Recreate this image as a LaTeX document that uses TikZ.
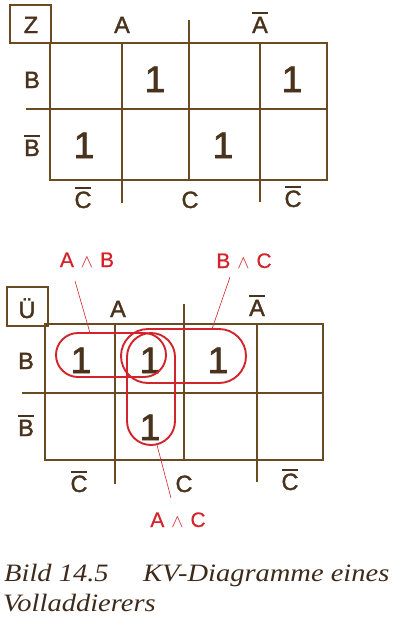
\documentclass[tikz,border=0pt]{standalone}
\usepackage{fontspec}
\setmainfont{Liberation Sans}
\newfontfamily\kvfont[FakeBold=1.6]{Liberation Sans}
\newfontfamily\redfont[FakeBold=0.6]{Liberation Sans}
\newfontfamily\capfont[FakeStretch=1.14]{Liberation Serif}
\definecolor{kvline}{HTML}{6A4A22}
\definecolor{kvtext}{HTML}{4A331C}
\definecolor{kvred}{HTML}{D2242A}
\definecolor{kvcap}{HTML}{3E2A1A}
\newcommand\ovl[1]{\leavevmode\vbox{\hrule height 1.8pt\kern 2.6pt\hbox{#1}}}
\newcommand\kvand{\hspace{7pt}\scalebox{0.88}{$\wedge$}\hspace{7pt}}
\tikzset{
  gridline/.style={draw=kvline, line width=1.8pt},
  lbl/.style={text=kvtext, font=\kvfont\fontsize{23.5}{24}\selectfont, inner sep=0pt, anchor=base},
  one/.style={text=kvtext, font=\kvfont\fontsize{37}{37}\selectfont, inner sep=0pt, anchor=base},
  rlbl/.style={text=kvred, font=\redfont\fontsize{21}{21}\selectfont, inner sep=0pt, anchor=base},
  kvloop/.style={draw=kvred, line width=1.9pt, inner sep=0pt},
  leader/.style={draw=kvred, line width=0.6pt},
  captext/.style={text=kvcap, font=\capfont\itshape\fontsize{25}{25}\selectfont, inner sep=0pt, anchor=base west}
}
\begin{document}
\begin{tikzpicture}[x=1pt,y=-1pt]
\useasboundingbox (0,0) rectangle (400,627);
% ---------- top KV map ----------
\node[gridline, draw, minimum width=41pt, minimum height=38pt, inner sep=0pt] (zbox) at (30.5,24) {};
\node[lbl] (z) at (31,33) {Z};
\draw[gridline] (50,43) rectangle (327,180);
\draw[gridline] (26,109) -- (327,109);
\draw[gridline] (122,43) -- (122,203);
\draw[gridline] (189,20) -- (189,180);
\draw[gridline] (260,43) -- (260,202);
\node[lbl] (tA) at (122,33) {A};
\node[lbl] (tnA) at (260,33) {\ovl{A}};
\node[lbl] (tB) at (32,88) {B};
\node[lbl] (tnB) at (32,156) {\ovl{B}};
\node[lbl] (tnC1) at (83,208) {\ovl{C}};
\node[lbl] (tC) at (190,208) {C};
\node[lbl] (tnC2) at (293,207) {\ovl{C}};
\node[one] (t12) at (155,92) {1};
\node[one] (t14) at (292,92) {1};
\node[one] (t21) at (84,158) {1};
\node[one] (t23) at (223,158) {1};
% ---------- bottom KV map ----------
\node[gridline, draw, minimum width=41pt, minimum height=39pt, inner sep=0pt] (ubox) at (27.5,306.5) {};
\node[lbl] (u) at (27,318) {Ü};
\draw[gridline] (45,324) rectangle (323,460);
\draw[gridline] (22,393) -- (323,393);
\draw[gridline] (115,324) -- (115,484);
\draw[gridline] (184,304) -- (184,460);
\draw[gridline] (257,324) -- (257,482);
\node[lbl] (bA) at (118,317) {A};
\node[lbl] (bnA) at (257,316) {\ovl{A}};
\node[lbl] (bB) at (26,369) {B};
\node[lbl] (bnB) at (26,436) {\ovl{B}};
\node[lbl] (bnC1) at (79,492) {\ovl{C}};
\node[lbl] (bC) at (184,492) {C};
\node[lbl] (bnC2) at (290,490) {\ovl{C}};
\node[one] (b11) at (81,373) {1};
\node[one] (b12) at (150,373) {1};
\node[one] (b13) at (218,373) {1};
\node[one] (b22) at (150,440) {1};
% loops
\node[kvloop, minimum width=110pt, minimum height=44pt, rounded corners=22pt] (lAB) at (111,355) {};
\node[kvloop, minimum width=125pt, minimum height=54pt, rounded corners=27pt] (lBC) at (183.5,356) {};
\node[kvloop, minimum width=48pt, minimum height=112pt, rounded corners=24pt] (lAC) at (151,389) {};
% red labels
\node[rlbl] (tAB) at (87,267) {A\kvand B};
\node[rlbl] (tBC) at (244,268) {B\kvand C};
\node[rlbl] (tAC) at (178,527) {A\kvand C};
\coordinate (ab1) at (75,281);
\coordinate (ab2) at (90,333);
\coordinate (bc1) at (230,277);
\coordinate (bc2) at (212,329);
\coordinate (ac1) at (171,498);
\coordinate (ac2) at (157,445);
\draw[leader] (ab1) -- (ab2);
\draw[leader] (bc1) -- (bc2);
\draw[leader] (ac1) -- (ac2);
% caption
\node[captext] (cap1) at (4,581) {Bild 14.5};
\node[captext] (cap2) at (143,581) {KV-Diagramme eines};
\node[captext] (cap3) at (3,611) {Volladdierers};
\end{tikzpicture}
\end{document}
